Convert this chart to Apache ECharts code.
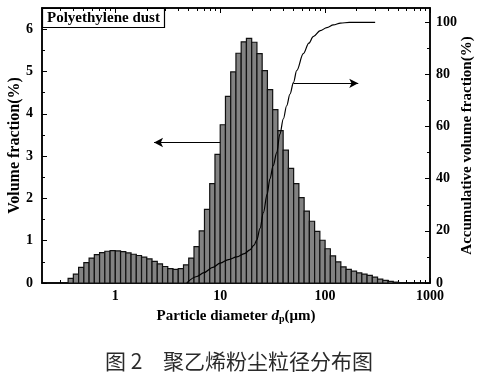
<!DOCTYPE html>
<html><head><meta charset="utf-8">
<script src="https://cdn.jsdelivr.net/npm/echarts@6/dist/echarts.min.js"></script>
<style>html,body{margin:0;padding:0;background:#fff}#c{width:493px;height:373px}</style>
</head><body><div id="c"></div>
<script>
// Histogram bins: 20 bins per decade, bin n spans [10^(n/20), 10^((n+1)/20)] µm
const binsPerDecade = 20;
const firstBin = -9;
const volumeFraction = [
  0.11, 0.21, 0.37, 0.48, 0.59, 0.67, 0.72, 0.75, 0.765, 0.76,
  0.74, 0.71, 0.68, 0.65, 0.61, 0.57, 0.51, 0.45, 0.39, 0.34,
  0.32, 0.34, 0.43, 0.59, 0.86, 1.23, 1.74, 2.35, 3.04, 3.74,
  4.41, 4.99, 5.43, 5.70, 5.78, 5.69, 5.42, 5.02, 4.57, 4.10,
  3.60, 3.14, 2.71, 2.35, 2.02, 1.70, 1.46, 1.22, 1.01, 0.81,
  0.64, 0.50, 0.38, 0.32, 0.28, 0.24, 0.21, 0.18, 0.14, 0.09,
  0.06, 0.04, 0.02
];
// Accumulative curve
const cumDiameter = [4.8, 6, 7, 8.5, 10, 12, 14.4, 17, 19.2, 21, 22.3, 24, 25.8, 28, 29.8, 32, 34.6, 37, 40, 43, 46.3, 50, 53.6, 62, 70, 77, 90, 104, 120, 140, 170, 300];
const cumFraction = [0, 2.5, 4, 6, 7.6, 9, 10, 11.3, 12.7, 14.5, 16.5, 21, 27, 34, 40, 45, 50, 57, 63, 68, 72.5, 77, 81.5, 88, 92, 94.5, 96.8, 98, 99, 99.7, 100, 100];
// Tick labels
const xMajorTicks = [1, 10, 100, 1000];
const xMinorTicks = [0.3,0.4,0.5,0.6,0.7,0.8,0.9,2,3,4,5,6,7,8,9,20,30,40,50,60,70,80,90,200,300,400,500,600,700,800,900];
const leftTicks = [0, 1, 2, 3, 4, 5, 6];
const leftMinorTicks = [0.5, 1.5, 2.5, 3.5, 4.5, 5.5];
const rightTicks = [0, 20, 40, 60, 80, 100];
const rightMinorTicks = [10, 30, 50, 70, 90];

const FONT = 'Liberation Serif';
const barData = volumeFraction.map((v, i) => {
  const n = firstBin + i;
  return [Math.pow(10, n / binsPerDecade), Math.pow(10, (n + 1) / binsPerDecade), v];
});
const cumData = cumDiameter.map((d, i) => [d, cumFraction[i]]);

const axisLineStyle = { show: true, onZero: false, lineStyle: { color: '#000', width: 1.5 } };
const labelStyle = { fontFamily: FONT, fontWeight: 'bold', fontSize: 14, color: '#000' };
function xAxisDef(pos, ticks, len, labels) {
  return {
    type: 'log', logBase: 10, min: 0.2, max: 1000, position: pos,
    axisLine: axisLineStyle,
    axisTick: { show: true, inside: true, length: len, customValues: ticks, lineStyle: { color: '#000', width: 1 } },
    axisLabel: labels ? Object.assign({ customValues: xMajorTicks, margin: 6, formatter: v => String(Math.round(v)) }, labelStyle) : { show: false },
    splitLine: { show: false }, minorTick: { show: false }
  };
}
function yAxisDef(pos, max, ticks, len, labels, margin) {
  return {
    type: 'value', min: 0, max: max, position: pos,
    axisLine: axisLineStyle,
    axisTick: { show: true, inside: true, length: len, customValues: ticks, lineStyle: { color: '#000', width: 1 } },
    axisLabel: labels ? Object.assign({ customValues: labels, margin: margin }, labelStyle) : { show: false },
    splitLine: { show: false }
  };
}

const xMain = xAxisDef('bottom', xMajorTicks, 5, true);
xMain.name = '{b|Particle diameter }{i|d}{s|p}{b|(μm)}';
xMain.nameLocation = 'middle';
xMain.nameGap = 25;
xMain.nameTextStyle = { rich: {
  b: { fontFamily: FONT, fontWeight: 'bold', fontSize: 15, color: '#000' },
  i: { fontFamily: FONT, fontWeight: 'bold', fontStyle: 'italic', fontSize: 15, color: '#000' },
  s: { fontFamily: FONT, fontWeight: 'bold', fontSize: 10, color: '#000', verticalAlign: 'bottom', padding: [6, 0, 0, 0] }
}};

const yLeft = yAxisDef('left', 6.5, leftTicks, 5, leftTicks, 9);
yLeft.name = 'Volume fraction(%)';
yLeft.nameLocation = 'middle';
yLeft.nameGap = 19;
yLeft.nameRotate = 90;
yLeft.nameMoveOverlap = false;
yLeft.nameTextStyle = { fontFamily: FONT, fontWeight: 'bold', fontSize: 16, color: '#000' };

const yRight = yAxisDef('right', 105.5, rightTicks, 5, rightTicks, 6);
yRight.name = 'Accumulative volume fraction(%)';
yRight.nameLocation = 'middle';
yRight.nameGap = 30;
yRight.nameRotate = 90;
yRight.nameMoveOverlap = false;
yRight.nameTextStyle = { fontFamily: FONT, fontWeight: 'bold', fontSize: 15, color: '#000' };

const option = {
  animation: false,
  backgroundColor: '#fff',
  title: {
    text: 'Polyethylene dust', left: 42, top: 8,
    borderColor: '#000', borderWidth: 1.2, padding: [3, 5, 2, 5],
    textStyle: { fontFamily: FONT, fontWeight: 'bold', fontSize: 15, color: '#000' }
  },
  grid: { left: 42, right: 63, top: 8, bottom: 90, containLabel: false, outerBoundsMode: 'none' },
  xAxis: [
    xMain,
    xAxisDef('top', xMajorTicks, 5, false),
    xAxisDef('bottom', xMinorTicks, 3, false),
    xAxisDef('top', xMinorTicks, 3, false)
  ],
  yAxis: [
    yLeft, yRight,
    yAxisDef('left', 6.5, leftMinorTicks, 3, null),
    yAxisDef('right', 105.5, rightMinorTicks, 3, null)
  ],
  series: [
    {
      type: 'custom', xAxisIndex: 0, yAxisIndex: 0,
      encode: { x: [0, 1], y: 2 },
      data: barData,
      renderItem: (params, api) => {
        const p0 = api.coord([api.value(0), 0]);
        const p1 = api.coord([api.value(1), api.value(2)]);
        return { type: 'rect', shape: { x: p0[0], y: p1[1], width: p1[0] - p0[0], height: p0[1] - p1[1] },
          style: { fill: '#828282', stroke: '#111', lineWidth: 1.2 } };
      }
    },
    {
      type: 'line', xAxisIndex: 0, yAxisIndex: 1,
      data: cumData, smooth: 0.35, smoothMonotone: 'x', showSymbol: false,
      lineStyle: { color: '#000', width: 1.2 },
      markLine: {
        silent: true, symbolSize: [7, 9], label: { show: false },
        lineStyle: { color: '#000', width: 1.2, type: 'solid' },
        data: [
          [{ coord: [10, 53.9], symbol: 'none' }, { coord: [2.34, 53.9], symbol: 'arrow' }],
          [{ coord: [49.8, 76.6], symbol: 'none' }, { coord: [207, 76.6], symbol: 'arrow' }]
        ]
      }
    }
  ],
  graphic: [
    { type: 'text', left: 105, top: 351, style: { text: '图 2', font: '21px "Noto Sans CJK SC"', fill: '#2a2a2a' } },
    { type: 'text', left: 163, top: 351, style: { text: '聚乙烯粉尘粒径分布图', font: '21px "Noto Sans CJK SC"', fill: '#2a2a2a' } }
  ]
};
const chart = echarts.init(document.getElementById('c'), null, { renderer: 'canvas' });
chart.setOption(option);
</script>
</body></html>
